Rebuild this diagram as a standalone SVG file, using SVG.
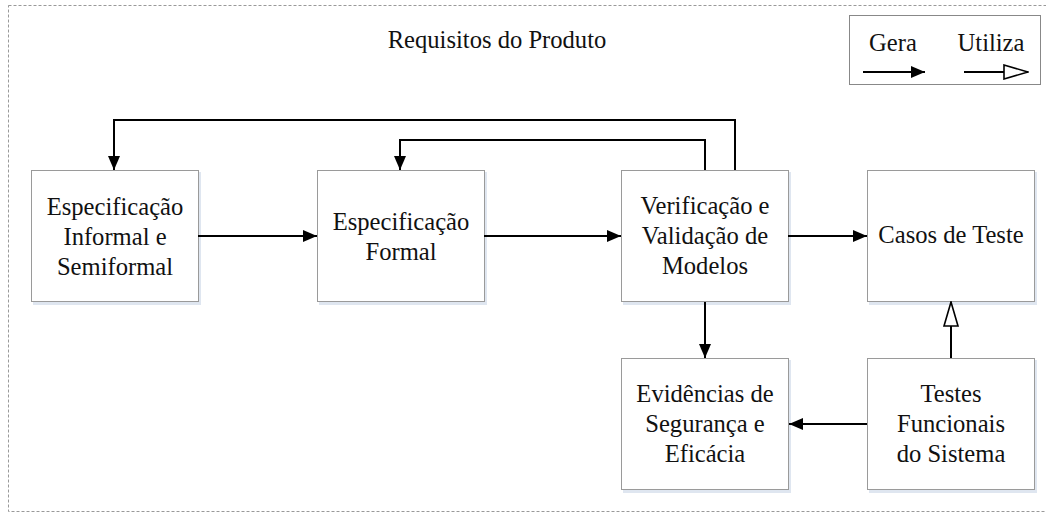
<svg xmlns="http://www.w3.org/2000/svg" width="1046" height="515" viewBox="0 0 1046 515">
<style>
.box{fill:#fff;stroke:#9a9a9a;stroke-width:1}
.sh{fill:#dfe6f0;stroke:none}
.c{fill:none;stroke:#000;stroke-width:2}
</style>
<defs>
<marker id="fa" markerWidth="14" markerHeight="12" refX="14" refY="6" orient="auto" markerUnits="userSpaceOnUse"><path d="M0,0 L14,6 L0,12 z" fill="#000"/></marker>
<marker id="ha" markerWidth="26" markerHeight="16" refX="25" refY="8" orient="auto" markerUnits="userSpaceOnUse"><path d="M1,1 L25,8 L1,15 z" fill="#fff" stroke="#000" stroke-width="1.6"/></marker>
</defs>
<rect x="8.5" y="5.5" width="1050" height="506" fill="none" stroke="#999" stroke-width="1" stroke-dasharray="3,2"/>
<g style="font-family:'Liberation Serif','Times New Roman',serif;font-size:24.6px;fill:#111;text-anchor:middle">
<text x="497" y="48">Requisitos do Produto</text>
<g id="legend">
<rect x="849.5" y="15.5" width="191" height="69" fill="#fff" stroke="#888"/>
<text x="893" y="51">Gera</text>
<text x="991" y="51">Utiliza</text>
<line class="c" x1="863" y1="72" x2="925" y2="72" marker-end="url(#fa)"/>
<line class="c" x1="964" y1="72" x2="1028" y2="72" marker-end="url(#ha)"/>
</g>
<g id="n1"><rect class="sh" x="33" y="172" width="168" height="133"/><rect class="box" x="31.5" y="170.5" width="167" height="131"/>
<text><tspan x="115" y="215">Especificação</tspan><tspan x="115" y="245">Informal e</tspan><tspan x="115" y="275">Semiformal</tspan></text></g>
<g id="n2"><rect class="sh" x="319" y="172" width="168" height="133"/><rect class="box" x="317.5" y="170.5" width="167" height="131"/>
<text><tspan x="401" y="230">Especificação</tspan><tspan x="401" y="260">Formal</tspan></text></g>
<g id="n3"><rect class="sh" x="623" y="172" width="168" height="133"/><rect class="box" x="621.5" y="170.5" width="167" height="131"/>
<text><tspan x="705" y="214">Verificação e</tspan><tspan x="705" y="244">Validação de</tspan><tspan x="705" y="274">Modelos</tspan></text></g>
<g id="n4"><rect class="sh" x="869" y="172" width="168" height="133"/><rect class="box" x="867.5" y="170.5" width="167" height="131"/>
<text><tspan x="951" y="243">Casos de Teste</tspan></text></g>
<g id="n5"><rect class="sh" x="623" y="360" width="168" height="133"/><rect class="box" x="621.5" y="358.5" width="167" height="131"/>
<text><tspan x="705" y="402">Evidências de</tspan><tspan x="705" y="432">Segurança e</tspan><tspan x="705" y="462">Eficácia</tspan></text></g>
<g id="n6"><rect class="sh" x="869" y="360" width="168" height="133"/><rect class="box" x="867.5" y="358.5" width="167" height="131"/>
<text><tspan x="951" y="402">Testes</tspan><tspan x="951" y="432">Funcionais</tspan><tspan x="951" y="462">do Sistema</tspan></text></g>
</g>
<g id="connectors">
<line class="c" x1="198" y1="236" x2="317" y2="236" marker-end="url(#fa)"/>
<line class="c" x1="484" y1="236" x2="621" y2="236" marker-end="url(#fa)"/>
<line class="c" x1="788" y1="236" x2="867" y2="236" marker-end="url(#fa)"/>
<path class="c" d="M735,170 V120 H114 V170" marker-end="url(#fa)"/>
<path class="c" d="M705,170 V140 H400 V170" marker-end="url(#fa)"/>
<line class="c" x1="705" y1="302" x2="705" y2="358" marker-end="url(#fa)"/>
<line class="c" x1="867" y1="424" x2="789" y2="424" marker-end="url(#fa)"/>
<line class="c" x1="951" y1="358" x2="951" y2="302" marker-end="url(#ha)"/>
</g>
</svg>
